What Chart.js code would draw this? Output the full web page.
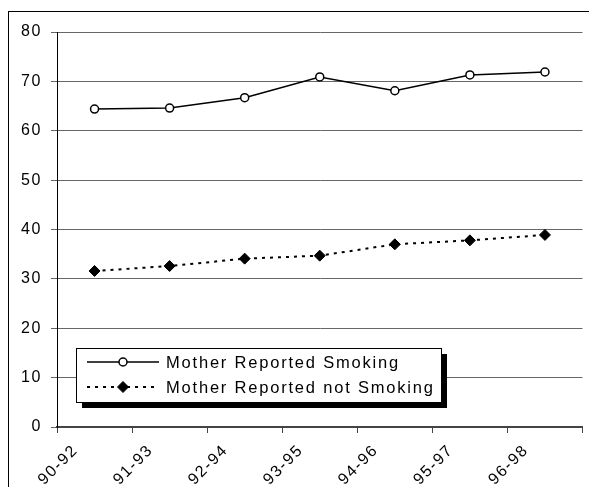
<!DOCTYPE html>
<html>
<head>
<meta charset="utf-8">
<script src="https://cdn.jsdelivr.net/npm/chart.js@4"></script>
<style>
  html, body { margin: 0; padding: 0; background: #fff; }
  #wrap { width: 589px; height: 487px; }
</style>
</head>
<body>
<div id="wrap"><canvas id="chart" width="589" height="487"></canvas></div>
<script>
// data
const periods = ["90-92", "91-93", "92-94", "93-95", "94-96", "95-97", "96-98"];
const smoking = [64.4, 64.6, 66.7, 70.9, 68.1, 71.3, 71.9];
const notSmoking = [31.6, 32.6, 34.1, 34.7, 37.0, 37.8, 38.9];
const yTicks = [0, 10, 20, 30, 40, 50, 60, 70, 80];

const FONT = "'Liberation Sans', Arial, sans-serif";

// spacing + frame around the whole thing
const framePlugin = {
  id: "frame",
  beforeLayout(chart) { chart.ctx.letterSpacing = "1.6px"; },
  beforeDraw(chart) {
    const ctx = chart.ctx;
    ctx.letterSpacing = "1.6px";
    ctx.save();
    ctx.strokeStyle = "#000";
    ctx.lineWidth = 1;
    ctx.strokeRect(8.5, 11.5, 1000, 1000);
    ctx.restore();
  }
};

// boxed legend sitting inside the plot, with drop shadow
const legendBox = {
  id: "legendBox",
  afterDraw(chart) {
    const ctx = chart.ctx;
    const x = 76, y = 348, w = 365, h = 54;
    ctx.save();
    ctx.fillStyle = "#000";
    ctx.fillRect(x + 6, y + 6, w, h);
    ctx.fillStyle = "#fff";
    ctx.fillRect(x, y, w, h);
    ctx.strokeStyle = "#000";
    ctx.lineWidth = 1;
    ctx.strokeRect(x + 0.5, y + 0.5, w, h);

    chart.data.datasets.forEach((ds, i) => {
      const cy = y + 14 + i * 25;
      ctx.strokeStyle = ds.borderColor;
      ctx.lineWidth = ds.borderWidth;
      ctx.setLineDash(ds.borderDash || []);
      ctx.beginPath();
      ctx.moveTo(87, cy);
      ctx.lineTo(159, cy);
      ctx.stroke();
      ctx.setLineDash([]);
      const r = ds.pointRadius;
      ctx.fillStyle = ds.pointBackgroundColor;
      ctx.strokeStyle = ds.pointBorderColor;
      ctx.lineWidth = ds.pointBorderWidth;
      ctx.beginPath();
      if (ds.pointStyle === "rectRot") {
        ctx.moveTo(123, cy - r); ctx.lineTo(123 + r, cy);
        ctx.lineTo(123, cy + r); ctx.lineTo(123 - r, cy);
        ctx.closePath();
      } else {
        ctx.arc(123, cy, r, 0, Math.PI * 2);
      }
      ctx.fill();
      ctx.stroke();

      ctx.fillStyle = "#000";
      ctx.font = "16.5px " + FONT;
      ctx.letterSpacing = "1.8px";
      ctx.textBaseline = "middle";
      ctx.textAlign = "left";
      ctx.fillText(ds.label, 166, cy + 1);
    });
    ctx.restore();
  }
};

new Chart(document.getElementById("chart"), {
  type: "line",
  data: {
    labels: periods,
    datasets: [
      {
        label: "Mother Reported Smoking",
        data: smoking,
        borderColor: "#000",
        borderWidth: 1.5,
        pointStyle: "circle",
        pointRadius: 4,
        pointBackgroundColor: "#fff",
        pointBorderColor: "#000",
        pointBorderWidth: 1.5,
        tension: 0
      },
      {
        label: "Mother Reported not Smoking",
        data: notSmoking,
        borderColor: "#000",
        borderWidth: 2,
        borderDash: [3, 5],
        pointStyle: "rectRot",
        pointRadius: 5.5,
        pointBackgroundColor: "#000",
        pointBorderColor: "#000",
        pointBorderWidth: 1,
        tension: 0
      }
    ]
  },
  options: {
    responsive: false,
    animation: false,
    devicePixelRatio: 1,
    layout: { padding: { top: 32, right: 1, left: 0, bottom: 0 } },
    plugins: {
      legend: { display: false },
      tooltip: { enabled: false }
    },
    scales: {
      x: {
        offset: true,
        afterFit(scale) { scale.height = 60; },
        grid: {
          offset: true,
          drawOnChartArea: false,
          drawTicks: true,
          tickLength: 6,
          color: "#444",
          lineWidth: 1
        },
        border: { color: "#444", width: 2 },
        ticks: {
          color: "#000",
          font: { family: FONT, size: 16 },
          minRotation: 45,
          maxRotation: 45,
          autoSkip: false,
          padding: 8,
          labelOffset: -19
        }
      },
      y: {
        min: 0,
        max: 80,
        afterFit(scale) { scale.width = 57; },
        afterBuildTicks(scale) { scale.ticks = yTicks.map(v => ({ value: v })); },
        grid: {
          color: "#666",
          lineWidth: 1,
          tickLength: 6
        },
        border: { color: "#000", width: 1 },
        ticks: {
          color: "#000",
          font: { family: FONT, size: 16 },
          padding: 9
        }
      }
    }
  },
  plugins: [framePlugin, legendBox]
});
</script>
</body>
</html>
